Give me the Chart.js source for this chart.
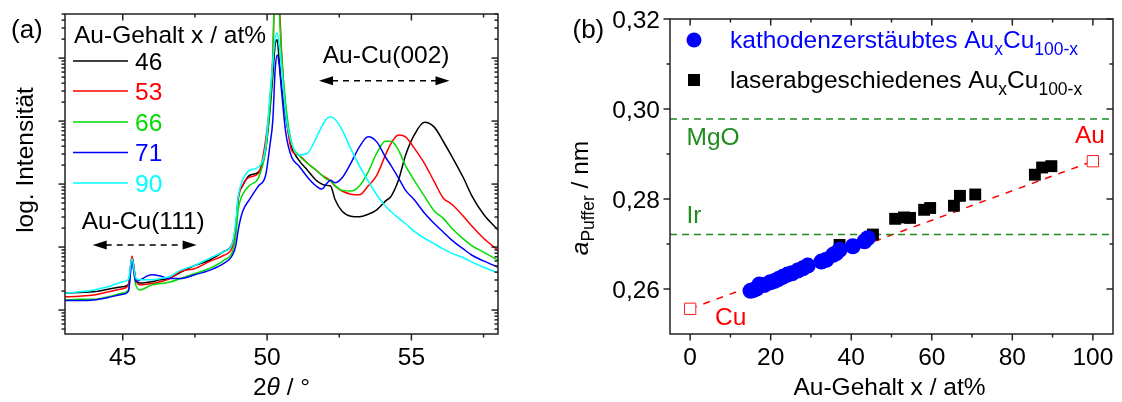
<!DOCTYPE html>
<html lang="de">
<head>
<meta charset="UTF-8" />
<title>Au-Cu Pufferschichten</title>
<script src="https://cdn.jsdelivr.net/npm/chart.js"></script>
<style>
  html, body { margin: 0; padding: 0; background: #fff; }
  .wrap { position: relative; width: 1122px; height: 402px; }
  #panelA { position: absolute; left: 0; top: 0; width: 560px; height: 402px; }
  #panelB { position: absolute; left: 560px; top: 0; width: 562px; height: 402px; }
</style>
</head>
<body>
<div class="wrap">
  <div id="panelA"><canvas id="xrdChart"></canvas></div>
  <div id="panelB"><canvas id="latticeChart"></canvas></div>
</div>
<script>
// ---- (a) XRD-Spektren, 2theta in Grad, Intensitaet als log10 ----
const twoTheta = [43.0, 43.5, 44.0, 44.5, 45.0, 45.2, 45.32, 45.45, 45.6, 46.0, 46.3, 46.6, 47.0, 47.5,
  48.0, 48.5, 48.8, 48.92, 49.0, 49.15, 49.4, 49.7, 49.95, 50.1, 50.2, 50.28, 50.35, 50.42, 50.5,
  50.65, 50.85, 51.1, 51.4, 51.7, 51.9, 52.05, 52.2, 52.35, 52.6, 52.9, 53.2, 53.5, 53.8, 54.1,
  54.3, 54.55, 54.8, 55.1, 55.45, 55.8, 56.1, 56.4, 56.8, 57.1, 57.5, 58.0];

const logI46 = [1.27, 1.28, 1.29, 1.33, 1.37, 1.41, 1.84, 1.49, 1.43, 1.45, 1.48, 1.50, 1.60, 1.71,
  1.79, 1.93, 2.06, 2.35, 2.78, 2.97, 3.14, 3.19, 3.54, 4.17, 4.73, 5.21, 5.29, 4.97, 4.57,
  4.05, 3.59, 3.38, 3.22, 3.06, 3.00, 2.98, 2.97, 2.76, 2.57, 2.49, 2.48, 2.52, 2.59, 2.73,
  2.81, 3.06, 3.46, 3.78, 3.98, 3.90, 3.68, 3.44, 3.10, 2.81, 2.52, 2.27];

const logI53 = [1.21, 1.22, 1.24, 1.29, 1.34, 1.40, 1.86, 1.48, 1.40, 1.42, 1.45, 1.49, 1.61, 1.66,
  1.77, 1.87, 2.00, 2.30, 2.75, 2.98, 3.11, 3.17, 3.70, 4.33, 5.05, 6.40, 6.50, 5.92, 5.13,
  4.17, 3.54, 3.46, 3.33, 3.22, 3.14, 3.10, 3.05, 2.97, 2.89, 2.84, 2.83, 2.97, 3.14, 3.46,
  3.65, 3.78, 3.75, 3.57, 3.33, 3.03, 2.78, 2.68, 2.49, 2.33, 2.14, 1.95];

const logI66 = [1.16, 1.17, 1.17, 1.21, 1.27, 1.32, 1.79, 1.40, 1.32, 1.40, 1.42, 1.44, 1.50, 1.58,
  1.66, 1.79, 1.93, 2.19, 2.59, 2.83, 2.98, 3.10, 3.54, 4.25, 4.97, 6.40, 6.40, 5.76, 5.05,
  4.25, 3.65, 3.46, 3.33, 3.22, 3.14, 3.08, 3.05, 2.98, 2.90, 2.89, 2.97, 3.19, 3.49, 3.68,
  3.68, 3.54, 3.29, 3.06, 2.81, 2.57, 2.46, 2.30, 2.13, 2.02, 1.92, 1.79];

const logI71 = [1.15, 1.15, 1.16, 1.20, 1.25, 1.30, 1.77, 1.45, 1.48, 1.56, 1.54, 1.50, 1.50, 1.56,
  1.63, 1.74, 1.87, 2.03, 2.27, 2.56, 2.76, 2.97, 3.14, 3.62, 4.02, 4.81, 5.05, 4.89, 4.49,
  3.81, 3.43, 3.29, 3.11, 2.97, 2.92, 3.00, 3.06, 3.02, 3.10, 3.33, 3.59, 3.75, 3.67, 3.43,
  3.29, 3.10, 2.90, 2.75, 2.54, 2.37, 2.24, 2.11, 1.97, 1.87, 1.78, 1.68];

const logI90 = [1.27, 1.29, 1.32, 1.37, 1.45, 1.49, 1.82, 1.51, 1.48, 1.48, 1.50, 1.53, 1.63, 1.71,
  1.82, 1.93, 2.06, 2.43, 2.80, 3.06, 3.22, 3.27, 3.60, 4.41, 4.94, 5.32, 5.40, 5.21, 4.86,
  4.10, 3.65, 3.46, 3.49, 3.73, 3.92, 4.03, 4.07, 4.03, 3.86, 3.56, 3.29, 3.05, 2.83, 2.65,
  2.56, 2.46, 2.37, 2.25, 2.14, 2.05, 1.97, 1.90, 1.83, 1.76, 1.68, 1.59];

const seriesLabels = ["46", "53", "66", "71", "90"];
const seriesColors = ["#000000", "#ff0000", "#00dd00", "#0000ff", "#00ffff"];

// ---- (b) Gitterparameter ----
const sputterX = [15.0, 15.8, 16.5, 17.2, 18.5, 19.9, 21.0, 21.9, 23.0, 24.2, 25.3, 26.7, 28.0, 29.2,
  32.6, 33.8, 35.5, 36.3, 37.1, 40.4, 43.3, 44.1];
const sputterA = [0.2596, 0.2598, 0.2601, 0.2610, 0.2609, 0.2615, 0.2618, 0.2622, 0.2627, 0.2632,
  0.2635, 0.2641, 0.2646, 0.2652, 0.2661, 0.2665, 0.2676, 0.2680, 0.2687, 0.2695, 0.2706, 0.2713];
const laserX = [37.1, 45.4, 50.9, 53.1, 54.6, 58.1, 59.6, 65.5, 67.0, 70.8, 85.6, 87.4, 89.7];
const laserA = [0.2698, 0.2721, 0.2756, 0.2759, 0.2758, 0.2776, 0.2780, 0.2785, 0.2807, 0.2810,
  0.2854, 0.2870, 0.2873];
const elementX = [0, 100];          // Cu, Au
const elementA = [0.2556, 0.2884];
const substrateX = [-5, 105];
const aMgO = 0.2978;
const aIr = 0.2721;

const FONT = '"Liberation Sans", Arial, sans-serif';
const FS = 24.5;
const GREEN = "#1e8c1e";

function text(ctx, s, x, y, size, color, align, style) {
  ctx.font = (style ? style + " " : "") + size + "px " + FONT;
  ctx.fillStyle = color;
  ctx.textAlign = align || "left";
  ctx.textBaseline = "alphabetic";
  ctx.fillText(s, x, y);
}

// parts: [text, size, dy, style]
function richWidth(ctx, parts) {
  let w = 0;
  parts.forEach(([t, size, dy, style]) => {
    ctx.font = (style ? style + " " : "") + size + "px " + FONT;
    w += ctx.measureText(t).width;
  });
  return w;
}
function rich(ctx, parts, x, y, color) {
  let cx = x;
  parts.forEach(([t, size, dy, style]) => {
    ctx.font = (style ? style + " " : "") + size + "px " + FONT;
    ctx.fillStyle = color;
    ctx.textAlign = "left";
    ctx.textBaseline = "alphabetic";
    ctx.fillText(t, cx, y + (dy || 0));
    cx += ctx.measureText(t).width;
  });
}

function line(ctx, x1, y1, x2, y2) {
  ctx.beginPath();
  ctx.moveTo(x1, y1);
  ctx.lineTo(x2, y2);
  ctx.stroke();
}

function arrow(ctx, x1, x2, y) {
  ctx.save();
  ctx.strokeStyle = "#000";
  ctx.fillStyle = "#000";
  ctx.lineWidth = 1.5;
  ctx.setLineDash([6, 5]);
  line(ctx, x1 + 13, y, x2 - 13, y);
  ctx.setLineDash([]);
  ctx.beginPath();
  ctx.moveTo(x1, y); ctx.lineTo(x1 + 14, y - 4.5); ctx.lineTo(x1 + 14, y + 4.5); ctx.closePath();
  ctx.fill();
  ctx.beginPath();
  ctx.moveTo(x2, y); ctx.lineTo(x2 - 14, y - 4.5); ctx.lineTo(x2 - 14, y + 4.5); ctx.closePath();
  ctx.fill();
  ctx.restore();
}

// Rahmen mit Ticks: unten/links nach aussen, oben/rechts nach innen
function drawFrame(chart, xMajor, xMinor, yMajor, yMinor, xFmt, yFmt) {
  const { ctx, chartArea: a, scales } = chart;
  const sx = scales.x, sy = scales.y;
  ctx.save();
  ctx.strokeStyle = "#222";
  ctx.lineWidth = 1.5;
  ctx.strokeRect(a.left, a.top, a.right - a.left, a.bottom - a.top);
  const big = 6.5, small = 3.5;
  [[xMajor, big], [xMinor, small]].forEach(([vals, len]) => vals.forEach((v) => {
    const px = sx.getPixelForValue(v);
    line(ctx, px, a.bottom, px, a.bottom + len);
    line(ctx, px, a.top, px, a.top + len);
  }));
  [[yMajor, big], [yMinor, small]].forEach(([vals, len]) => vals.forEach((v) => {
    const py = sy.getPixelForValue(v);
    line(ctx, a.left - len, py, a.left, py);
    line(ctx, a.right - len, py, a.right, py);
  }));
  xMajor.forEach((v) => text(ctx, xFmt(v), sx.getPixelForValue(v), 365, FS, "#000", "center"));
  if (yFmt) {
    yMajor.forEach((v) => text(ctx, yFmt(v), a.left - 10, sy.getPixelForValue(v) + 8.8, FS, "#000", "right"));
  }
  ctx.restore();
}

// ---------------- Chart (a) ----------------
const yMinA = 0.62, yMaxA = 5.70;
const logMinor = [];
for (let n = 0; n <= 5; n++) {
  for (let k = 2; k <= 9; k++) {
    const v = n + Math.log10(k);
    if (v > yMinA && v < yMaxA) logMinor.push(v);
  }
}

const xrdPlugin = {
  id: "xrdDeco",
  afterDraw(chart) {
    const { ctx, chartArea: a, scales } = chart;
    drawFrame(chart, [45, 50, 55], [47.5, 52.5, 57.5], [1, 2, 3, 4, 5], logMinor, (v) => String(v), null);
    ctx.save();
    text(ctx, "(a)", 11, 37.5, 26, "#000");
    // Legende
    text(ctx, "Au-Gehalt x / at%", 74, 43, FS, "#000");
    const ly = [61, 91, 122, 152.5, 183];
    seriesLabels.forEach((lab, i) => {
      ctx.strokeStyle = seriesColors[i];
      ctx.lineWidth = 1.5;
      line(ctx, 73, ly[i], 128, ly[i]);
      text(ctx, lab, 135, ly[i] + 8.8, FS, seriesColors[i]);
    });
    // Reflexbereiche
    const sx = scales.x;
    text(ctx, "Au-Cu(002)", sx.getPixelForValue(51.93), 63, FS, "#000");
    arrow(ctx, sx.getPixelForValue(51.80), sx.getPixelForValue(56.32), 80.7);
    text(ctx, "Au-Cu(111)", sx.getPixelForValue(43.58), 229, FS, "#000");
    arrow(ctx, sx.getPixelForValue(43.96), sx.getPixelForValue(47.56), 245);
    // Achsentitel
    const xt = [["2", FS], ["\u03B8", FS, 0, "italic"], [" / \u00B0", FS]];
    const w = richWidth(ctx, xt);
    rich(ctx, xt, (a.left + a.right) / 2 - w / 2, 395, "#000");
    ctx.translate(33, 160);
    ctx.rotate(-Math.PI / 2);
    text(ctx, "log. Intensit\u00E4t", 0, 0, FS, "#000", "center");
    ctx.restore();
  }
};

const spectra = [logI46, logI53, logI66, logI71, logI90];
new Chart(document.getElementById("xrdChart"), {
  type: "line",
  data: {
    datasets: spectra.map((vals, i) => ({
      label: seriesLabels[i],
      data: twoTheta.map((t, j) => ({ x: t, y: vals[j] })),
      borderColor: seriesColors[i],
      borderWidth: 1.5,
      pointRadius: 0,
      cubicInterpolationMode: "monotone",
      fill: false,
      order: 5 - i,
    })),
  },
  options: {
    responsive: true,
    maintainAspectRatio: false,
    animation: false,
    layout: { padding: { left: 65, right: 62, top: 14, bottom: 68 } },
    plugins: { legend: { display: false }, tooltip: { enabled: false } },
    scales: {
      x: { type: "linear", min: 43, max: 58, display: false },
      y: { type: "linear", min: yMinA, max: yMaxA, display: false },
    },
  },
  plugins: [xrdPlugin],
});

// ---------------- Chart (b) ----------------
const latticePlugin = {
  id: "latticeDeco",
  afterDraw(chart) {
    const { ctx, chartArea: a } = chart;
    drawFrame(chart, [0, 20, 40, 60, 80, 100], [10, 30, 50, 70, 90],
      [0.26, 0.28, 0.30, 0.32], [0.27, 0.29, 0.31],
      (v) => String(v), (v) => v.toFixed(2).replace(".", ","));
    ctx.save();
    text(ctx, "(b)", 12.5, 37.5, 26, "#000");
    // Legende
    ctx.fillStyle = "#0000ff";
    ctx.beginPath(); ctx.arc(134, 40, 7.5, 0, Math.PI * 2); ctx.fill();
    ctx.fillStyle = "#000";
    ctx.fillRect(128, 74, 12, 12);
    const alloy = [["Au", FS], ["x", 17.5, 7], ["Cu", FS], ["100-x", 17.5, 7]];
    rich(ctx, [["kathodenzerst\u00E4ubtes ", FS]].concat(alloy), 170, 48, "#0000ff");
    rich(ctx, [["laserabgeschiedenes ", FS]].concat(alloy), 170, 88, "#000");
    // Beschriftungen
    text(ctx, "MgO", 126.5, 145, FS, GREEN);
    text(ctx, "Ir", 126.5, 223, FS, GREEN);
    text(ctx, "Cu", 155, 325, FS, "#ff0000");
    text(ctx, "Au", 515, 143, FS, "#ff0000");
    // Achsentitel
    text(ctx, "Au-Gehalt x / at%", (a.left + a.right) / 2 - 2, 395, FS, "#000", "center");
    const yt = [["a", FS, 0, "italic"], ["Puffer", 17.5, 6], [" / nm", FS]];
    const w = richWidth(ctx, yt);
    ctx.translate(28, 198);
    ctx.rotate(-Math.PI / 2);
    rich(ctx, yt, -w / 2, 0, "#000");
    ctx.restore();
  }
};

const pts = (xs, ys) => xs.map((x, i) => ({ x, y: ys[i] }));
new Chart(document.getElementById("latticeChart"), {
  type: "scatter",
  data: {
    datasets: [
      {
        label: "kathodenzerst\u00E4ubtes AuxCu100-x",
        data: pts(sputterX, sputterA),
        pointStyle: "circle",
        pointRadius: 8,
        pointBackgroundColor: "#0000ff",
        pointBorderWidth: 0,
      },
      {
        label: "laserabgeschiedenes AuxCu100-x",
        data: pts(laserX, laserA),
        pointStyle: "rect",
        pointRadius: 8.4,
        pointBackgroundColor: "#000",
        pointBorderWidth: 0,
      },
      {
        label: "Cu / Au",
        data: pts(elementX, elementA),
        pointStyle: "rect",
        pointRadius: 8,
        pointBackgroundColor: "#fff",
        pointBorderColor: "#ff2020",
        pointBorderWidth: 1,
      },
      {
        label: "MgO",
        data: substrateX.map((x) => ({ x, y: aMgO })),
        showLine: true,
        pointRadius: 0,
        borderColor: GREEN,
        borderWidth: 1.5,
        borderDash: [7, 5],
      },
      {
        label: "Ir",
        data: substrateX.map((x) => ({ x, y: aIr })),
        showLine: true,
        pointRadius: 0,
        borderColor: GREEN,
        borderWidth: 1.5,
        borderDash: [7, 5],
      },
      {
        label: "Vegard",
        data: pts(elementX, elementA),
        showLine: true,
        pointRadius: 0,
        borderColor: "#ff0000",
        borderWidth: 1.5,
        borderDash: [7, 7],
      },
    ],
  },
  options: {
    responsive: true,
    maintainAspectRatio: false,
    animation: false,
    layout: { padding: { left: 110, right: 5, top: 19, bottom: 68 } },
    plugins: { legend: { display: false }, tooltip: { enabled: false } },
    scales: {
      x: { type: "linear", min: -5, max: 105, display: false },
      y: { type: "linear", min: 0.25, max: 0.32, display: false },
    },
  },
  plugins: [latticePlugin],
});
</script>
</body>
</html>
